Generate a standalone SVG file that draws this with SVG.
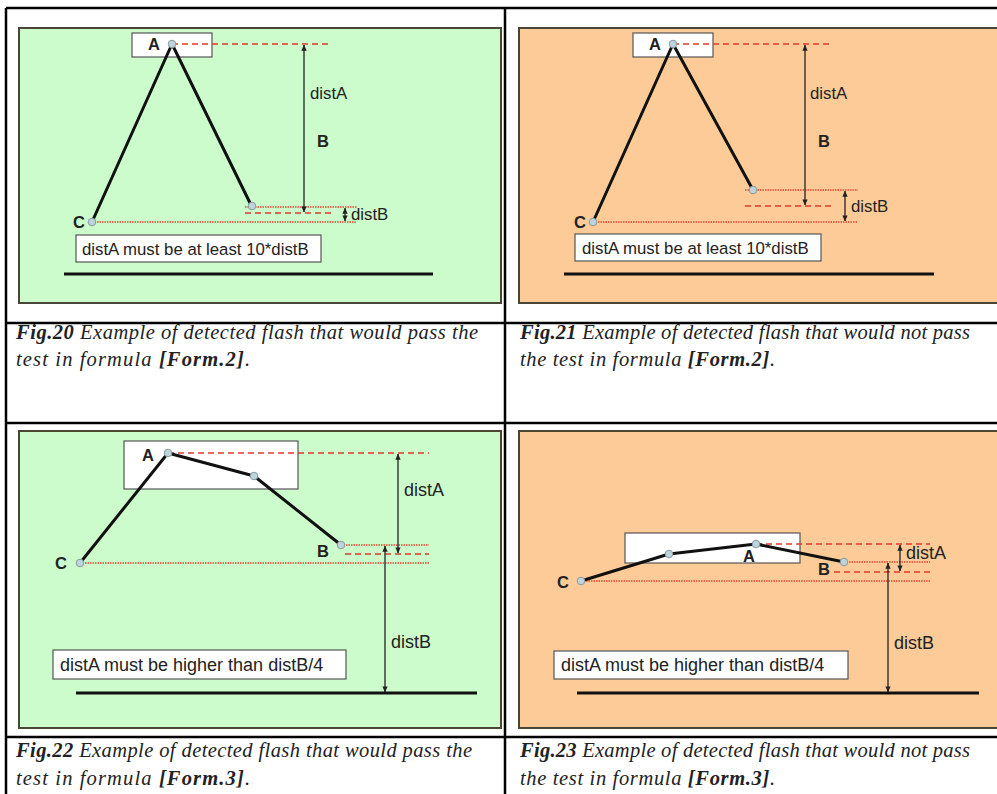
<svg xmlns="http://www.w3.org/2000/svg" width="997" height="794" viewBox="0 0 997 794">
<defs>
<style>
.tbl{stroke:#000;stroke-width:2.5;fill:none}
.green{fill:#ccfbcc;stroke:#4a4535;stroke-width:2}
.orange{fill:#fccb97;stroke:#4a4535;stroke-width:2}
.box{fill:#fff;stroke:#555;stroke-width:1.2}
.flash{fill:none;stroke:#111;stroke-width:3;stroke-linejoin:round}
.pt{fill:#bcd4dc;stroke:#8a9aa0;stroke-width:1}
.dash{stroke:#e03a2a;stroke-width:1.6;stroke-dasharray:6,4;fill:none}
.dot{stroke:#e5452f;stroke-width:1.3;stroke-dasharray:1.5,1;fill:none}
.arr{stroke:#222;stroke-width:1.3;fill:none;marker-start:url(#ah);marker-end:url(#ah)}
.ground{stroke:#111;stroke-width:3}
.lbl{font-family:"Liberation Sans",Arial,sans-serif;font-size:16.8px;fill:#222}
.lbl2{font-family:"Liberation Sans",Arial,sans-serif;font-size:18px;fill:#222}
.lb{font-family:"Liberation Sans",Arial,sans-serif;font-size:16.5px;font-weight:bold;fill:#222}
.cap{font-family:"Liberation Serif","Times New Roman",serif;font-style:italic;font-size:20.5px;fill:#222}
.fig{font-weight:bold}
</style>
<marker id="ah" viewBox="0 0 8 8" refX="7.5" refY="4" markerWidth="6" markerHeight="6" orient="auto-start-reverse" markerUnits="userSpaceOnUse">
<path d="M0,0.5 L8,4 L0,7.5 z" fill="#222"/>
</marker>
</defs>
<rect width="997" height="794" fill="#fff"/>

<g id="table">
<line class="tbl" x1="6" y1="8" x2="997" y2="8"/>
<line class="tbl" x1="6" y1="8" x2="6" y2="794"/>
<line class="tbl" x1="505" y1="8" x2="505" y2="794"/>
<line class="tbl" x1="6" y1="323" x2="997" y2="323"/>
<line class="tbl" x1="6" y1="423" x2="997" y2="423"/>
<line class="tbl" x1="6" y1="737" x2="997" y2="737"/>
</g>

<!-- Panel 1 -->
<g id="fig20">
<rect class="green" x="19" y="28" width="482" height="275"/>
<rect class="box" x="132" y="33" width="80" height="24"/>
<g id="fig20-connectors">
<line class="dash" x1="172" y1="44" x2="330" y2="44"/>
<line class="dot" x1="245" y1="207" x2="357" y2="207"/>
<line class="dot" x1="92" y1="222" x2="357" y2="222"/>
<line class="dash" x1="245" y1="213" x2="331" y2="213"/>
<polyline class="flash" points="92,222 172,44 252,207"/>
<line class="arr" x1="304" y1="45" x2="304" y2="212"/>
<line class="arr" x1="345" y1="208" x2="345" y2="221"/>
</g>
<circle class="pt" cx="172" cy="44" r="3.8"/>
<circle class="pt" cx="252" cy="206" r="3.8"/>
<circle class="pt" cx="92" cy="222" r="3.8"/>
<text class="lb" x="148" y="50">A</text>
<text class="lb" x="73" y="228">C</text>
<text class="lbl" x="310" y="99">distA</text>
<text class="lb" x="317" y="147">B</text>
<text class="lbl" x="351" y="220">distB</text>
<rect class="box" x="76" y="235" width="245" height="27"/>
<text class="lbl" x="82" y="254.5">distA must be at least 10*distB</text>
<line class="ground" x1="64" y1="274" x2="433" y2="274"/>
</g>

<!-- Panel 2 -->
<g id="fig21">
<rect class="orange" x="519" y="28" width="480" height="275"/>
<rect class="box" x="633" y="33" width="80" height="24"/>
<g id="fig21-connectors">
<line class="dash" x1="673" y1="44" x2="830" y2="44"/>
<line class="dot" x1="745" y1="190" x2="858" y2="190"/>
<line class="dot" x1="593" y1="222" x2="858" y2="222"/>
<line class="dash" x1="745" y1="206" x2="831" y2="206"/>
<polyline class="flash" points="593,222 673,44 753,190"/>
<line class="arr" x1="805" y1="45" x2="805" y2="205"/>
<line class="arr" x1="845" y1="191" x2="845" y2="221"/>
</g>
<circle class="pt" cx="673" cy="44" r="3.8"/>
<circle class="pt" cx="753" cy="190" r="3.8"/>
<circle class="pt" cx="593" cy="222" r="3.8"/>
<text class="lb" x="649" y="50">A</text>
<text class="lb" x="574" y="228">C</text>
<text class="lbl" x="810" y="99">distA</text>
<text class="lb" x="818" y="147">B</text>
<text class="lbl" x="851" y="212">distB</text>
<rect class="box" x="575" y="234" width="246" height="27"/>
<text class="lbl" x="582" y="253.5">distA must be at least 10*distB</text>
<line class="ground" x1="564" y1="274" x2="934" y2="274"/>
</g>

<!-- Panel 3 -->
<g id="fig22">
<rect class="green" x="19" y="431" width="482" height="297"/>
<rect class="box" x="124" y="441" width="174" height="48"/>
<g id="fig22-connectors">
<line class="dash" x1="168" y1="453" x2="429" y2="453"/>
<line class="dot" x1="341" y1="545" x2="429" y2="545"/>
<line class="dot" x1="80" y1="563" x2="429" y2="563"/>
<line class="dash" x1="345" y1="554" x2="429" y2="554"/>
<polyline class="flash" points="80,563 168,453 254,476 341,545"/>
<line class="arr" x1="398" y1="454" x2="398" y2="553"/>
<line class="arr" x1="385" y1="546" x2="385" y2="692"/>
</g>
<circle class="pt" cx="168" cy="453" r="3.8"/>
<circle class="pt" cx="254" cy="476" r="3.8"/>
<circle class="pt" cx="341" cy="545" r="3.8"/>
<circle class="pt" cx="80" cy="563" r="3.8"/>
<text class="lb" x="142" y="461">A</text>
<text class="lb" x="317" y="557">B</text>
<text class="lb" x="55" y="569">C</text>
<text class="lbl2" x="404" y="496">distA</text>
<text class="lbl2" x="391" y="648">distB</text>
<rect class="box" x="53" y="650" width="293" height="29"/>
<text class="lbl2" x="60" y="671">distA must be higher than distB/4</text>
<line class="ground" x1="76" y1="693" x2="477" y2="693"/>
</g>

<!-- Panel 4 -->
<g id="fig23">
<rect class="orange" x="519" y="431" width="480" height="297"/>
<rect class="box" x="625" y="533" width="175" height="30"/>
<g id="fig23-connectors">
<line class="dash" x1="756" y1="544" x2="930" y2="544"/>
<line class="dot" x1="844" y1="562" x2="930" y2="562"/>
<line class="dot" x1="581" y1="581" x2="930" y2="581"/>
<line class="dash" x1="834" y1="572" x2="930" y2="572"/>
<polyline class="flash" points="581,581 669,554 756,544 844,562"/>
<line class="arr" x1="900" y1="545" x2="900" y2="571"/>
<line class="arr" x1="888" y1="563" x2="888" y2="692"/>
</g>
<circle class="pt" cx="669" cy="554" r="3.8"/>
<circle class="pt" cx="756" cy="544" r="3.8"/>
<circle class="pt" cx="844" cy="562" r="3.8"/>
<circle class="pt" cx="581" cy="581" r="3.8"/>
<text class="lb" x="743" y="562">A</text>
<text class="lb" x="818" y="575">B</text>
<text class="lb" x="557" y="588">C</text>
<text class="lbl2" x="906" y="559">distA</text>
<text class="lbl2" x="894" y="649">distB</text>
<rect class="box" x="554" y="651" width="294" height="28"/>
<text class="lbl2" x="561" y="671">distA must be higher than distB/4</text>
<line class="ground" x1="577" y1="693" x2="979" y2="693"/>
</g>

<g id="captions">
<text class="cap" x="16" y="339" textLength="462"><tspan class="fig">Fig.20</tspan> Example of detected flash that would pass the</text>
<text class="cap" x="16" y="366" textLength="234"><tspan>test in formula </tspan><tspan class="fig">[Form.2]</tspan>.</text>
<text class="cap" x="520" y="339" textLength="450"><tspan class="fig">Fig.21</tspan> Example of detected flash that would not pass</text>
<text class="cap" x="520" y="366" textLength="255"><tspan>the test in formula </tspan><tspan class="fig">[Form.2]</tspan>.</text>
<text class="cap" x="16" y="757" textLength="456"><tspan class="fig">Fig.22</tspan> Example of detected flash that would pass the</text>
<text class="cap" x="16" y="785" textLength="234"><tspan>test in formula </tspan><tspan class="fig">[Form.3]</tspan>.</text>
<text class="cap" x="520" y="757" textLength="450"><tspan class="fig">Fig.23</tspan> Example of detected flash that would not pass</text>
<text class="cap" x="520" y="785" textLength="255"><tspan>the test in formula </tspan><tspan class="fig">[Form.3]</tspan>.</text>
</g>
</svg>
